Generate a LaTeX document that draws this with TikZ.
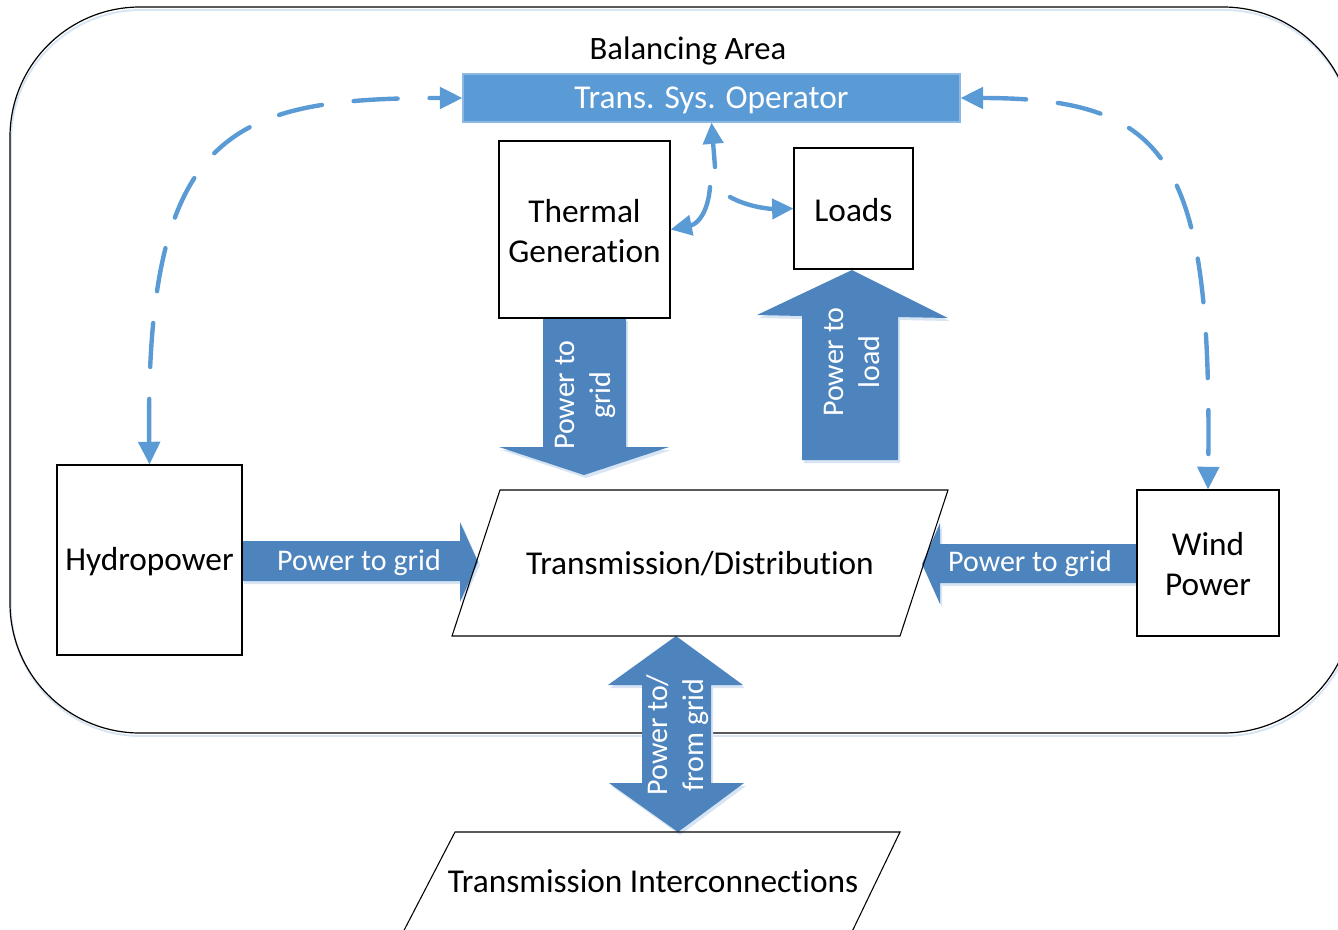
\documentclass[tikz,border=0pt]{standalone}
\usepackage{fontspec}
\setmainfont{Carlito}[RawFeature=-liga]
\usetikzlibrary{arrows.meta}
\definecolor{tsoblue}{RGB}{91,155,213}
\definecolor{tsoedge}{RGB}{140,185,228}
\definecolor{blockblue}{RGB}{78,132,189}
\definecolor{dashblue}{RGB}{91,155,213}
\definecolor{shadowblue}{RGB}{214,228,243}
\begin{document}
\begin{tikzpicture}[x=0.75pt,y=-0.75pt,
  boxtext/.style={font=\fontsize{25pt}{30pt}\selectfont, align=center},
  plainbox/.style={draw=black, line width=0.8pt, fill=white, inner sep=0pt, boxtext},
  tsobox/.style={fill=tsoblue, draw=tsoedge, line width=0.8pt, inner sep=0pt, text=white, boxtext},
  blockarrow/.style={fill=blockblue, draw=none},
  blockshadow/.style={fill=shadowblue, draw=none},
  arrowlabel/.style={text=white, font=\fontsize{22.5pt}{27pt}\selectfont, align=center, inner sep=0pt},
  dconn/.style={draw=dashblue, line width=3.3pt, line cap=round, dash pattern=on 33pt off 24pt,
    {Triangle[length=17pt,width=16pt]}-{Triangle[length=17pt,width=16pt]}},
  sconn/.style={draw=dashblue, line width=3.3pt, line cap=round, -{Triangle[length=16pt,width=15pt]}}
]
\useasboundingbox (0,0) rectangle (1338,929);
\clip (0,0) rectangle (1338,929);

% balancing area frame
\draw[shadowblue, line width=1.4pt, rounded corners=97.5pt] (11,10) rectangle (1354,736);
\draw[black, line width=0.9pt, rounded corners=97.5pt] (10,7) rectangle (1353,733);
\node[font=\fontsize{24.5pt}{29pt}\selectfont] (ba) at (688,51) {Balancing Area};

% block arrows (shadows)
\begin{scope}[shift={(2,3)}]
\fill[blockshadow] (543,318) -- (626,318) -- (626,447) -- (669,447) -- (584,475) -- (499,447) -- (543,447) -- cycle;
\fill[blockshadow] (802,460) -- (898,460) -- (898,317) -- (948,318) -- (852,270) -- (757,315) -- (802,316) -- cycle;
\fill[blockshadow] (242,541) -- (460,541) -- (460,522) -- (478,562) -- (460,602) -- (460,581) -- (242,581) -- cycle;
\fill[blockshadow] (1137,544) -- (940,544) -- (940,523) -- (922,564) -- (940,604) -- (940,583) -- (1137,583) -- cycle;
\fill[blockshadow] (676,636) -- (743,685) -- (711,685) -- (711,783) -- (744,783) -- (678,832) -- (609,783) -- (642,783) -- (642,685) -- (608,685) -- cycle;
\end{scope}
% block arrows
\fill[blockarrow] (543,318) -- (626,318) -- (626,447) -- (669,447) -- (584,475) -- (499,447) -- (543,447) -- cycle;
\fill[blockarrow] (802,460) -- (898,460) -- (898,317) -- (948,318) -- (852,270) -- (757,315) -- (802,316) -- cycle;
\fill[blockarrow] (242,541) -- (460,541) -- (460,522) -- (478,562) -- (460,602) -- (460,581) -- (242,581) -- cycle;
\fill[blockarrow] (1137,544) -- (940,544) -- (940,523) -- (922,564) -- (940,604) -- (940,583) -- (1137,583) -- cycle;
\fill[blockarrow] (676,636) -- (743,685) -- (711,685) -- (711,783) -- (744,783) -- (678,832) -- (609,783) -- (642,783) -- (642,685) -- (608,685) -- cycle;

\node[arrowlabel, rotate=90] (lblthermal) at (585,395) {Power to\\grid};
\node[arrowlabel, rotate=90] (lblloads) at (852,362) {Power to\\load};
\node[arrowlabel] (lblhydro) at (359,563) {Power to grid};
\node[arrowlabel] (lblwind) at (1030,564) {Power to grid};
\node[arrowlabel, rotate=90] (lblinter) at (678,735) {Power to/\\from grid};

% boxes
\node[tsobox, minimum width=497*0.75pt, minimum height=48*0.75pt] (tso) at (711.5,98) {};
\node[text=white, boxtext] (tsotext) at (711.5,100) {Trans. Sys. Operator};
\node[plainbox, minimum width=171*0.75pt, minimum height=177*0.75pt] (thermal) at (584.5,229.5) {};
\node[boxtext] (thermaltext) at (584.5,231) {Thermal\\Generation};
\node[plainbox, minimum width=119*0.75pt, minimum height=121*0.75pt] (loads) at (853.5,208.5) {};
\node[boxtext] (loadstext) at (853.5,210) {Loads};
\node[plainbox, minimum width=185*0.75pt, minimum height=190*0.75pt] (hydro) at (149.5,560) {};
\node[boxtext] (hydrotext) at (149.5,562) {Hydropower};
\node[plainbox, minimum width=142*0.75pt, minimum height=146*0.75pt] (wind) at (1208,563) {};
\node[boxtext] (windtext) at (1208,564) {Wind\\Power};

% parallelograms
\draw[black, line width=0.8pt] (500,490) -- (948,490) -- (900,636) -- (452,636) -- cycle;
\node[boxtext] (td) at (700,564) {Transmission/Distribution};
\draw[black, line width=0.8pt] (399,940) -- (455,832) -- (900,832) -- (848,940);
\node[boxtext] (ti) at (653,881) {Transmission Interconnections};

% dashed control connectors
\draw[dconn] (hydro.north) .. controls (145,130) and (230,98) .. (tso.west);
\draw[dconn] (tso.east) .. controls (1170,98) and (1212,160) .. (wind.north);

% small connectors under the operator
\coordinate (j1) at (715,167);
\coordinate (j2) at (710,187);
\coordinate (j3) at (730,197);
\draw[sconn] (j1) -- (tso.south);
\draw[sconn] (j2) .. controls (708,212) and (698,224) .. (thermal.east);
\draw[sconn] (j3) .. controls (748,207) and (770,209) .. (loads.west);
\end{tikzpicture}
\end{document}
